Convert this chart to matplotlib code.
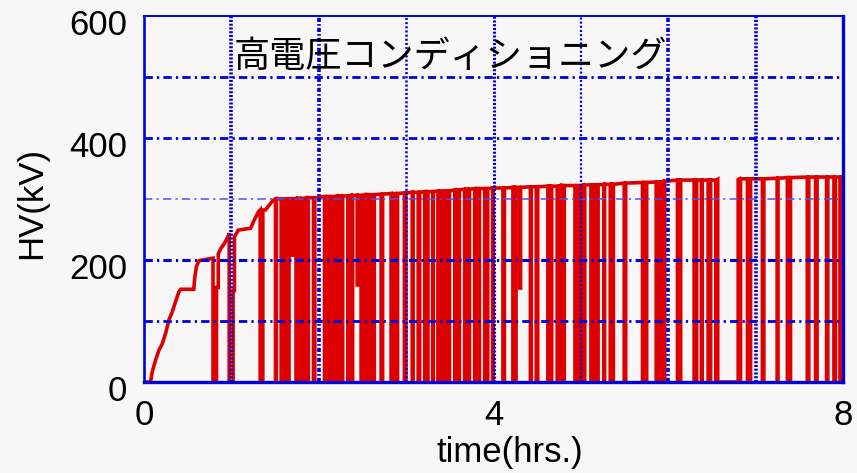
import numpy as np
import matplotlib
matplotlib.use("Agg")
import matplotlib.pyplot as plt
from matplotlib.transforms import ScaledTranslation

plt.rcParams['lines.scale_dashes'] = False
plt.rcParams['path.simplify'] = False

# ---------------- data ----------------
title_text = "高電圧コンディショニング"
x_label = "time(hrs.)"
y_label = "HV(kV)"
x_ticks = [0, 4, 8]
y_ticks = [0, 200, 400, 600]
h_grid = [100, 200, 300, 400, 500]
v_grid = [1, 2, 3, 4, 5, 6, 7]

# initial ramp-up (hours, kV)
early_t = [0.00, 0.075, 0.095, 0.133, 0.171, 0.21, 0.248, 0.286, 0.324, 0.362,
           0.40, 0.42, 0.57, 0.58, 0.60, 0.63, 0.79, 0.79, 0.83, 0.83,
           0.85, 0.85, 0.88, 0.92, 0.96, 0.975, 0.975, 1.02, 1.02, 1.035,
           1.035, 1.08, 1.22, 1.26, 1.31, 1.33, 1.33, 1.36, 1.36, 1.39,
           1.45, 1.48]
early_kv = [0, 0, 17, 36, 52, 63, 80, 102, 115, 132,
            148, 152, 152, 170, 189, 199, 203, 0, 0, 155,
            155, 210, 219, 227, 238, 244, 0, 0, 150, 150,
            238, 249, 252, 265, 279, 282, 0, 0, 282, 282,
            293, 298]

# breakdown trips: time of drop, time of recovery, lowest kV, plateau kV
trip_down = [1.505, 1.570, 1.606, 1.642, 1.690, 1.740, 1.780, 1.820, 1.860, 1.940,
             2.066, 2.112, 2.158, 2.205, 2.251, 2.333, 2.370, 2.440, 2.485, 2.528,
             2.571, 2.614, 2.714, 2.828, 2.877, 2.980, 3.070, 3.138, 3.213, 3.238,
             3.304, 3.364, 3.402, 3.439, 3.477, 3.557, 3.592, 3.670, 3.707, 3.785,
             3.821, 3.899, 3.922, 3.990, 4.108, 4.222, 4.246, 4.300, 4.422, 4.489,
             4.622, 4.651, 4.729, 4.761, 4.794, 4.932, 4.977, 5.022, 5.115, 5.148,
             5.181, 5.262, 5.336, 5.360, 5.496, 5.705, 5.737, 5.862, 5.901, 5.940,
             6.105, 6.130, 6.296, 6.315, 6.380, 6.456, 6.475, 6.544, 6.566, 6.815,
             6.906, 6.930, 7.077, 7.246, 7.363, 7.387, 7.591, 7.686, 7.812, 7.896,
             7.965]
trip_up = [1.515, 1.588, 1.624, 1.660, 1.700, 1.760, 1.800, 1.840, 1.880, 1.955,
           2.089, 2.135, 2.182, 2.228, 2.274, 2.351, 2.388, 2.448, 2.507, 2.550,
           2.593, 2.636, 2.731, 2.853, 2.902, 2.998, 3.080, 3.155, 3.225, 3.250,
           3.311, 3.383, 3.421, 3.458, 3.496, 3.575, 3.610, 3.688, 3.725, 3.803,
           3.839, 3.911, 3.934, 3.996, 4.125, 4.234, 4.258, 4.310, 4.432, 4.506,
           4.637, 4.666, 4.745, 4.778, 4.810, 4.954, 4.999, 5.044, 5.131, 5.164,
           5.197, 5.271, 5.348, 5.372, 5.513, 5.721, 5.753, 5.881, 5.920, 5.959,
           6.117, 6.142, 6.306, 6.325, 6.389, 6.466, 6.485, 6.556, 6.800, 6.827,
           6.918, 6.942, 7.094, 7.256, 7.375, 7.399, 7.608, 7.703, 7.826, 7.913,
           7.975]
trip_low = [0, 0, 0, 0, 208, 0, 0, 0, 0, 0,
            0, 0, 0, 0, 0, 0, 0, 159, 0, 0,
            0, 0, 0, 0, 0, 0, 0, 0, 0, 0,
            0, 0, 0, 0, 0, 0, 0, 0, 0, 0,
            0, 0, 0, 0, 0, 0, 0, 154, 0, 0,
            0, 0, 0, 0, 0, 0, 0, 0, 0, 0,
            0, 0, 0, 0, 0, 0, 0, 0, 0, 0,
            0, 0, 0, 0, 0, 0, 0, 0, 0, 0,
            0, 0, 0, 0, 0, 0, 0, 0, 0, 0,
            0]
trip_top = [300, 300, 300, 300, 300, 301, 301, 301, 302, 302,
            304, 304, 304, 305, 305, 305, 306, 306, 306, 307,
            307, 307, 308, 309, 309, 310, 311, 311, 312, 312,
            312, 313, 313, 313, 313, 315, 315, 316, 316, 317,
            317, 317, 317, 318, 318, 319, 319, 319, 320, 320,
            321, 321, 321, 322, 322, 322, 322, 323, 323, 323,
            323, 324, 324, 324, 326, 327, 327, 328, 328, 329,
            331, 331, 331, 331, 331, 331, 331, 331, 332, 333,
            333, 333, 333, 334, 335, 335, 336, 336, 336, 336,
            336]
end_t = 8.0
end_kv = 336

assert len(early_t) == len(early_kv)
assert len(trip_down) == len(trip_up) == len(trip_low) == len(trip_top)

# ---------------- build the trace ----------------
trace_t = list(early_t)
trace_kv = list(early_kv)
for d, u, lo, top in zip(trip_down, trip_up, trip_low, trip_top):
    trace_t += [d, d, u, u]
    trace_kv += [top, lo, lo, top]
trace_t.append(end_t)
trace_kv.append(end_kv)

# ---------------- figure ----------------
bg = '#f7f7f7'
blue = '#0000dd'
red = '#dd0000'
fig = plt.figure(figsize=(8.57, 4.73), dpi=100, facecolor=bg)
ax = fig.add_axes([0.168, 0.1924, 0.8157, 0.7738])
ax.set_facecolor(bg)

ax.plot(trace_t, trace_kv, color=red, lw=2.6, solid_joinstyle='miter', zorder=2)

ax.set_xlim(0, 8)
ax.set_ylim(0, 600)

# grid lines (drawn above the trace as in the reference)
h_styles = {100: (2.0, blue), 200: (2.2, blue), 300: (1.1, '#5050ee'),
            400: (2.0, blue), 500: (2.0, blue)}
for yv in h_grid:
    lw, c = h_styles[yv]
    ax.axhline(yv, color=c, lw=lw, linestyle=(0, (6, 3, 1.6, 3)), zorder=3)
v_styles = {1: (2.6, (0, (1.5, 1.2))), 2: (2.6, (0, (3, 1.5, 1.2, 1.5))),
            3: (1.8, (0, (1.5, 1.5))), 4: (2.2, (0, (1.5, 1.2))),
            5: (1.6, (0, (1.5, 1.5))), 6: (2.6, (0, (3, 1.5, 1.2, 1.5))),
            7: (2.6, (0, (1.5, 1.2)))}
for xv in v_grid:
    lw, ls = v_styles[xv]
    ax.axvline(xv, color=blue, lw=lw, linestyle=ls, zorder=3)

# spines
for side, w in [('left', 1.9), ('bottom', 2.4), ('right', 2.4), ('top', 1.4)]:
    ax.spines[side].set_color(blue)
    ax.spines[side].set_linewidth(w)
    ax.spines[side].set_zorder(4)

tick_font = dict(family=['Liberation Sans', 'DejaVu Sans'], size=25)
ax.set_xticks(x_ticks)
ax.set_yticks(y_ticks)
ax.set_xticklabels([str(v) for v in x_ticks], **tick_font)
ax.set_yticklabels([str(v) for v in y_ticks], **tick_font)
ax.tick_params(axis='both', length=0, colors='black')
ax.tick_params(axis='x', pad=12)
ax.tick_params(axis='y', pad=12)
for lab in ax.get_yticklabels():
    lab.set_transform(lab.get_transform() + ScaledTranslation(0, -0.06, fig.dpi_scale_trans))

fig.text(510 / 857, 1 - 452 / 473, x_label, ha='center', va='center', **tick_font)
fig.text(32 / 857, 1 - 203 / 473, y_label, ha='center', va='center', rotation=90, **tick_font)

ax.text(3.51, 533, title_text, ha='center', va='center', fontsize=26,
        family=['Noto Sans CJK JP', 'DejaVu Sans'], color='black', zorder=5)

fig.savefig('out.png', dpi=100, facecolor=bg)
